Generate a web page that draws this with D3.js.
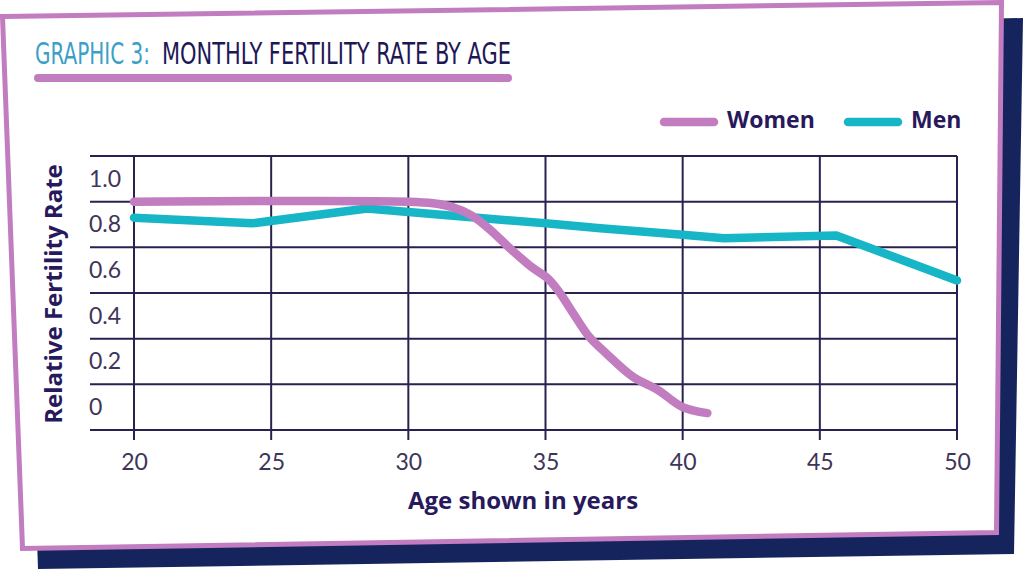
<!DOCTYPE html>
<html>
<head>
<meta charset="utf-8">
<script src="https://cdn.jsdelivr.net/npm/d3@7"></script>
<style>
  html, body { margin: 0; padding: 0; background: #ffffff; }
  svg { display: block; }
</style>
</head>
<body>
<svg id="chart" width="1024" height="569"></svg>
<script>
// ages on the x axis
var ageTicks = [20, 25, 30, 35, 40, 45, 50];
var rateTicks = [0, 0.2, 0.4, 0.6, 0.8, 1.0, 1.2];
var rateLabels = ["0", "0.2", "0.4", "0.6", "0.8", "1.0"];

// women: [age, relative rate]
var womenAge  = [20, 30, 30.9, 31.6, 32.3, 33.0, 33.7, 34.5, 35.1, 35.5, 36.1, 36.6, 37.2, 38.2, 39.1, 40.0, 40.9];
var womenRate = [1.0, 1.0, 0.993, 0.976, 0.94, 0.875, 0.796, 0.713, 0.662, 0.604, 0.494, 0.407, 0.337, 0.232, 0.175, 0.10, 0.074];

// men
var menAge  = [20, 24.3, 28.5, 30, 35, 37, 40, 41.5, 45.6, 50];
var menRate = [0.93, 0.905, 0.97, 0.955, 0.905, 0.884, 0.855, 0.84, 0.852, 0.655];

var seriesNames = ["Women", "Men"];
var colors = {"Women": "#c27cc0", "Men": "#17b6c6"};

var svg = d3.select("#chart");

var ink = "#28195c";
var gridColor = "#2b2150";
var labelColor = "#3e3558";

// shadow + card frame (slightly tilted in the original)
svg.append("polygon")
   .attr("points", "20,40 1023,18 1014,554 38,569")
   .attr("fill", "#16245e");

svg.append("polygon")
   .attr("points", "2.5,16.5 1001.5,2.5 996.5,532.5 22.5,548.5")
   .attr("fill", "#ffffff")
   .attr("stroke", "#c27cc0")
   .attr("stroke-width", 5)
   .attr("stroke-linejoin", "miter");

// title: two parts, each squeezed sideways to the width it has in the picture
var titleFont = "'DejaVu Sans Condensed', 'DejaVu Sans', sans-serif";
function titlePart(txt, x, w, fill) {
    var t = svg.append("text")
       .attr("x", 0)
       .attr("y", 0)
       .style("font-family", titleFont)
       .style("font-size", "30px")
       .attr("fill", fill)
       .text(txt);
    var natural = t.node().getComputedTextLength();
    t.attr("transform", "translate(" + x + ",64) scale(" + (w / natural) + ",1)");
}
titlePart("GRAPHIC 3:", 35, 115, "#3b9fc6");
titlePart("MONTHLY FERTILITY RATE BY AGE", 162, 349, "#1e1756");

svg.append("line")
   .attr("x1", 38).attr("x2", 508)
   .attr("y1", 78).attr("y2", 78)
   .attr("stroke", "#c27cc0")
   .attr("stroke-width", 8)
   .attr("stroke-linecap", "round");

// scales
var xScale = d3.scaleLinear()
               .domain([20, 50])
               .range([134, 957]);

var yScale = d3.scaleLinear()
               .domain([0, 1.2])
               .range([430, 156]);

// grid
svg.selectAll("line.hgrid")
   .data(rateTicks)
   .enter()
   .append("line")
   .attr("class", "hgrid")
   .attr("x1", 90)
   .attr("x2", xScale(50))
   .attr("y1", function(d) { return yScale(d); })
   .attr("y2", function(d) { return yScale(d); })
   .attr("stroke", gridColor)
   .attr("stroke-width", 2);

svg.selectAll("line.vgrid")
   .data(ageTicks)
   .enter()
   .append("line")
   .attr("class", "vgrid")
   .attr("x1", function(d) { return xScale(d); })
   .attr("x2", function(d) { return xScale(d); })
   .attr("y1", yScale(1.2))
   .attr("y2", yScale(0) + 10)
   .attr("stroke", gridColor)
   .attr("stroke-width", 2);

// x axis labels
var xAxis = d3.axisBottom(xScale)
              .tickValues(ageTicks)
              .tickSize(0)
              .tickPadding(0)
              .tickFormat(function(d) { return d; });

var gx = svg.append("g")
   .attr("transform", "translate(0," + 470 + ")")
   .call(xAxis);
gx.select(".domain").remove();
gx.selectAll("text")
   .attr("dy", 0)
   .attr("y", 0)
   .style("font-family", "Lato, 'Open Sans', sans-serif")
   .style("font-size", "23px")
   .attr("fill", labelColor);

// y labels sit in the band above their line
var bandHalf = (yScale(0) - yScale(0.2)) / 2;
svg.selectAll("text.ylab")
   .data(rateLabels)
   .enter()
   .append("text")
   .attr("class", "ylab")
   .attr("x", 89)
   .attr("y", function(d) { return yScale(+d) - bandHalf + 2; })
   .attr("dominant-baseline", "middle")
   .style("font-family", "Lato, 'Open Sans', sans-serif")
   .style("font-size", "23px")
   .attr("fill", labelColor)
   .text(function(d) { return d; });

// axis titles
svg.append("text")
   .attr("x", 523)
   .attr("y", 509)
   .attr("text-anchor", "middle")
   .style("font-family", "'Open Sans', sans-serif")
   .style("font-weight", "bold")
   .style("font-size", "24px")
   .attr("fill", ink)
   .text("Age shown in years");

svg.append("text")
   .attr("transform", "translate(62,294) rotate(-90)")
   .attr("text-anchor", "middle")
   .style("font-family", "'Open Sans', sans-serif")
   .style("font-weight", "bold")
   .style("font-size", "24px")
   .attr("fill", ink)
   .text("Relative Fertility Rate");

// lines
var line = d3.line()
             .x(function(d) { return xScale(d[0]); })
             .y(function(d) { return yScale(d[1]); });

var menData = menAge.map(function(a, i) { return [a, menRate[i]]; });
var womenData = womenAge.map(function(a, i) { return [a, womenRate[i]]; });

svg.append("path")
   .datum(menData)
   .attr("d", line.curve(d3.curveLinear))
   .attr("fill", "none")
   .attr("stroke", colors["Men"])
   .attr("stroke-width", 8.5)
   .attr("stroke-linecap", "round")
   .attr("stroke-linejoin", "round");

svg.append("path")
   .datum(womenData)
   .attr("d", line.curve(d3.curveCatmullRom.alpha(0.5)))
   .attr("fill", "none")
   .attr("stroke", colors["Women"])
   .attr("stroke-width", 8.5)
   .attr("stroke-linecap", "round")
   .attr("stroke-linejoin", "round");

// legend
var legendX = {"Women": 664, "Men": 848};
seriesNames.forEach(function(name) {
    svg.append("line")
       .attr("x1", legendX[name])
       .attr("x2", legendX[name] + 50)
       .attr("y1", 122).attr("y2", 122)
       .attr("stroke", colors[name])
       .attr("stroke-width", 8.5)
       .attr("stroke-linecap", "round");
    svg.append("text")
       .attr("x", legendX[name] + 63)
       .attr("y", 128)
       .style("font-family", "'Open Sans', sans-serif")
       .style("font-weight", "bold")
       .style("font-size", "23px")
       .attr("fill", ink)
       .text(name);
});
</script>
</body>
</html>
